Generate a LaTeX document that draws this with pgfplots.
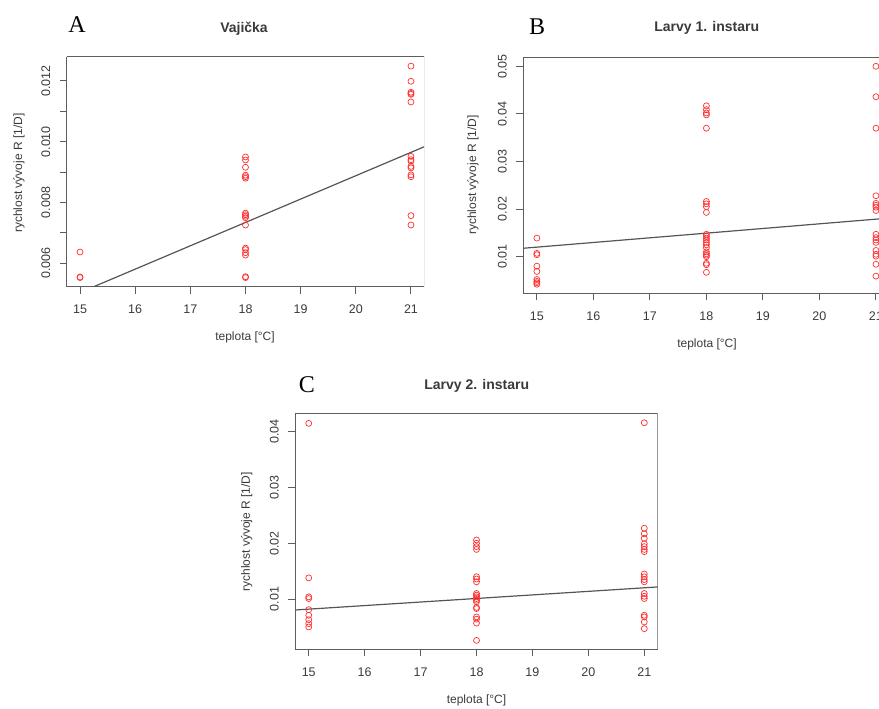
\documentclass[border=0pt]{standalone}
\usepackage{fontspec}
\setmainfont{Liberation Sans}
\newfontfamily\letterfont{Liberation Serif}
\usepackage{pgfplots}
\pgfplotsset{compat=1.18}

\definecolor{boxgray}{HTML}{5E5E5E}
\definecolor{txtgray}{HTML}{3A3A3A}
\definecolor{ptred}{HTML}{FF3030}
\definecolor{fitgray}{HTML}{555555}

\pgfplotsset{
  rplot/.style={
    scale only axis,
    /pgf/number format/assume math mode=true,
    scaled y ticks=false,
    axis line style={draw=boxgray, line width=1.1},
    tick style={draw=boxgray, line width=1.0},
    tick align=outside,
    major tick length=7,
    xtick={15,16,17,18,19,20,21},
    xticklabels={15,16,17,18,19,20,21},
    xmin=14.76, xmax=21.24,
    ticklabel style={text=txtgray, font=\fontsize{12.5}{14}\selectfont},
    xticklabel style={yshift=-8},
    yticklabel style={rotate=90, anchor=south},
    yticklabel shift=6pt,
    axis x line*=bottom, axis y line*=left,
    clip=true,
  },
  rpts/.style={only marks, mark=o, mark size=3.0, color=ptred, mark options={line width=0.7}},
  rfit/.style={no marks, color=fitgray, line width=1.2},
}

\begin{document}
\begin{tikzpicture}[x=1pt, y=1pt]
\useasboundingbox (0,0) rectangle (879,709);

% ---------- A: Vajicka ----------
\begin{axis}[rplot, at={(66.8pt,422.3pt)}, anchor=south west,
  width=357.4pt, height=230pt,
  ymin=0.00523, ymax=0.0128,
  ytick={0.006,0.007,0.008,0.009,0.010,0.011,0.012},
  yticklabels={0.006,,0.008,,0.010,,0.012}]
\draw[boxgray, line width=1.1] (rel axis cs:0,0) rectangle (rel axis cs:1,1);
\addplot[rpts] coordinates {
 (15,0.00637) (15,0.00555) (15,0.00553)
 (18,0.0095) (18,0.0094) (18,0.00916) (18,0.0089) (18,0.00885) (18,0.0088)
 (18,0.00765) (18,0.0076) (18,0.00755) (18,0.0075) (18,0.00726)
 (18,0.0065) (18,0.00645) (18,0.00635) (18,0.00627) (18,0.00556) (18,0.00553)
 (21,0.01249) (21,0.01199) (21,0.01163) (21,0.01159) (21,0.01156) (21,0.01131)
 (21,0.00952) (21,0.00941) (21,0.00936) (21,0.00919) (21,0.00914) (21,0.00891)
 (21,0.00885) (21,0.00757) (21,0.00726)};
\addplot[rfit] coordinates {(14,0.00427) (22,0.01042)};
\end{axis}

% ---------- B: Larvy 1. instaru ----------
\begin{axis}[rplot, at={(523.3pt,415.7pt)}, anchor=south west,
  width=366.2pt, height=236pt,
  ymin=0.0023, ymax=0.0519,
  ytick={0.01,0.02,0.03,0.04,0.05},
  yticklabels={0.01,0.02,0.03,0.04,0.05}]
\draw[boxgray, line width=1.1] (rel axis cs:0,0) rectangle (rel axis cs:1,1);
\addplot[rpts] coordinates {
 (15,0.0139) (15,0.0107) (15,0.0104) (15,0.0080) (15,0.0069) (15,0.0052)
 (15,0.0048) (15,0.0045) (15,0.0042)
 (18,0.0417) (18,0.0409) (18,0.0402) (18,0.0398) (18,0.0370)
 (18,0.0216) (18,0.0211) (18,0.0205) (18,0.0193)
 (18,0.0147) (18,0.0143) (18,0.0139) (18,0.0135) (18,0.0130) (18,0.0125)
 (18,0.0119) (18,0.0110) (18,0.0106) (18,0.0103) (18,0.0100)
 (18,0.0086) (18,0.0083) (18,0.0067)
 (21,0.0500) (21,0.0436) (21,0.0370) (21,0.0228) (21,0.0212) (21,0.0208)
 (21,0.0204) (21,0.0197) (21,0.0147) (21,0.0140) (21,0.0135) (21,0.0130)
 (21,0.0113) (21,0.0105) (21,0.0101) (21,0.0084) (21,0.0059)};
\addplot[rfit] coordinates {(14,0.01102) (22,0.01886)};
\end{axis}

% ---------- C: Larvy 2. instaru ----------
\begin{axis}[rplot, at={(295.3pt,59.7pt)}, anchor=south west,
  width=362.4pt, height=236pt,
  ymin=0.001, ymax=0.0433,
  ytick={0.01,0.02,0.03,0.04},
  yticklabels={0.01,0.02,0.03,0.04}]
\draw[boxgray, line width=1.1] (rel axis cs:0,0) rectangle (rel axis cs:1,1);
\addplot[rpts] coordinates {
 (15,0.0415) (15,0.0138) (15,0.0104) (15,0.0101) (15,0.0081) (15,0.0071)
 (15,0.0063) (15,0.0056) (15,0.0050)
 (18,0.0206) (18,0.0200) (18,0.0194) (18,0.0189) (18,0.0140) (18,0.0136)
 (18,0.0131) (18,0.0110) (18,0.0107) (18,0.0104) (18,0.0101) (18,0.0098)
 (18,0.0095) (18,0.0085) (18,0.0083) (18,0.0068) (18,0.0064) (18,0.0057)
 (18,0.0026)
 (21,0.0416) (21,0.0227) (21,0.0217) (21,0.0209) (21,0.0199) (21,0.0194)
 (21,0.0189) (21,0.0185) (21,0.0145) (21,0.0140) (21,0.0135) (21,0.0131)
 (21,0.0110) (21,0.0105) (21,0.0101) (21,0.0071) (21,0.0068) (21,0.0059)
 (21,0.0047)};
\addplot[rfit] coordinates {(14,0.00756) (22,0.01266)};
\end{axis}

% titles, panel letters, axis labels
\begin{scope}[every node/.style={text=txtgray, inner sep=0}]
\node[font=\fontsize{14}{16}\selectfont\bfseries] at (244,680) {Vajička};
\node[font=\fontsize{14}{16}\selectfont\bfseries] at (706.7,681) {Larvy 1. instaru};
\node[font=\fontsize{14}{16}\selectfont\bfseries] at (476.7,323.3) {Larvy 2. instaru};

\node[font=\fontsize{24}{26}\selectfont\letterfont, text=black] at (77,684) {A};
\node[font=\fontsize{24}{26}\selectfont\letterfont, text=black] at (537,682) {B};
\node[font=\fontsize{24}{26}\selectfont\letterfont, text=black] at (307,324) {C};

\node[font=\fontsize{12}{14}\selectfont] at (245,372) {teplota [°C]};
\node[font=\fontsize{12}{14}\selectfont] at (707,365) {teplota [°C]};
\node[font=\fontsize{12}{14}\selectfont] at (476.5,8.5) {teplota [°C]};

\node[font=\fontsize{12}{14}\selectfont, rotate=90] at (19,536) {rychlost vývoje R [1/D]};
\node[font=\fontsize{12}{14}\selectfont, rotate=90] at (473,534) {rychlost vývoje R [1/D]};
\node[font=\fontsize{12}{14}\selectfont, rotate=90] at (246.7,177.3) {rychlost vývoje R [1/D]};
\end{scope}
\end{tikzpicture}
\end{document}
